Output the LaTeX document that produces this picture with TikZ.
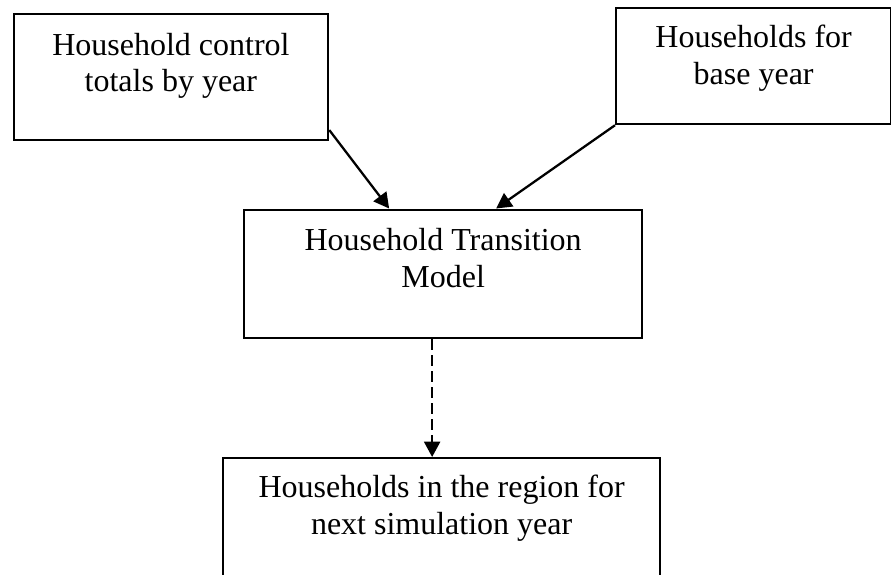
\documentclass[tikz,border=0pt]{standalone}
\usepackage{fontspec}
\setmainfont{Liberation Serif}
\usetikzlibrary{arrows,arrows.meta}
\tikzset{
    block/.style = {draw, rectangle, line width=1.7pt,
        anchor=north west, inner sep=0pt, align=center,
        font=\fontsize{24}{27.6}\selectfont},
    arrow/.style = {draw, ->, line width=1.7pt},
    dasharrow/.style = {arrow, dash pattern=on 8pt off 4pt}
}
\begin{document}
\begin{tikzpicture}[x=0.75pt, y=-0.75pt, >={Triangle[length=11.5pt,width=12pt]}]
    \useasboundingbox (0,0) rectangle (891,574);
    \node [block, minimum width=235.9pt, text height=58.5pt, text depth=36pt] (ctrl) at (12.5,12.8) {Household control\\totals by year};
    \node [block, minimum width=206.25pt, text height=57.2pt, text depth=30pt] (base) at (615,6.7) {Households for\\base year};
    \node [block, minimum width=298.5pt, text height=58.1pt, text depth=38.25pt] (htm) at (243,208.5) {Household Transition\\Model};
    \node [block, minimum width=327.75pt, text height=57pt, text depth=37.5pt] (next) at (222,457) {Households in the region for\\next simulation year};
    \draw [arrow] ([yshift=8.25pt]ctrl.south east) -- ([xshift=-40.5pt]htm.north);
    \draw [arrow] (base.south west) -- ([xshift=39.75pt]htm.north);
    \draw [dasharrow] ([xshift=-8.25pt]htm.south) -- ([xshift=-7.125pt]next.north);
\end{tikzpicture}
\end{document}
